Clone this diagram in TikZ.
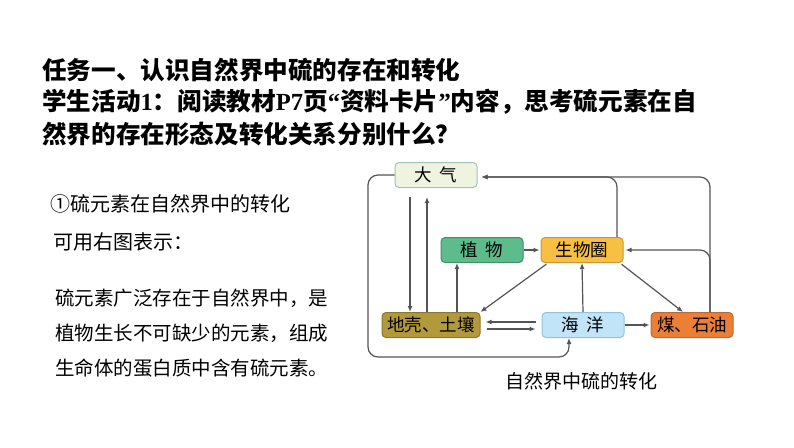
\documentclass[tikz,border=0pt]{standalone}
\usepackage{fontspec}
\usepackage{xcolor}
\usetikzlibrary{arrows.meta}
\setmainfont{Noto Sans CJK SC}
\newfontfamily\cjk{Noto Sans CJK SC}
\newfontfamily\latin{Liberation Serif}

\definecolor{dqfill}{HTML}{EEF4DF}
\definecolor{dqline}{HTML}{A3C2B8}
\definecolor{zwfill}{HTML}{5DBB8C}
\definecolor{zwline}{HTML}{3F8F6A}
\definecolor{swfill}{HTML}{F8C043}
\definecolor{swline}{HTML}{C9963A}
\definecolor{dkfill}{HTML}{B29A3C}
\definecolor{dkline}{HTML}{8A7830}
\definecolor{hyfill}{HTML}{C2E4F8}
\definecolor{hyline}{HTML}{8FC3E0}
\definecolor{msfill}{HTML}{EC7F36}
\definecolor{msline}{HTML}{B86A3A}
\definecolor{linegray}{HTML}{555555}

\newcommand{\lat}[1]{{\latin\bfseries #1}}

\tikzset{
  box/.style={rounded corners=4pt, line width=1pt, minimum height=25pt,
    minimum width=82pt, inner sep=0pt, font=\cjk\fontsize{17.5}{20}\selectfont},
  link/.style={draw=linegray, line width=1.2pt},
  arr/.style={link, -{Latex[length=6pt,width=5pt]}},
  txt/.style={anchor=west, inner sep=0pt, font=\cjk\fontsize{19.5}{22}\selectfont},
  head/.style={anchor=west, inner sep=0pt, font=\cjk\bfseries\fontsize{24.6}{28}\selectfont}
}

\begin{document}
\begin{tikzpicture}[x=1pt,y=-1pt]
  \useasboundingbox[fill=white] (0,0) rectangle (794,447);

  % heading
  \node[head] (t1) at (42,70) {任务一、认识自然界中硫的存在和转化};
  \node[head] (t2) at (42,102) {学生活动\lat{1}：阅读教材\lat{P7}页\lat{“}资料卡片\lat{”}内容，思考硫元素在自};
  \node[head] (t3) at (42,134) {然界的存在形态及转化关系分别什么？};

  % left text
  \node[txt, font=\cjk\fontsize{20}{22}\selectfont] (l1) at (50,204) {①硫元素在自然界中的转化};
  \node[txt, font=\cjk\fontsize{20}{22}\selectfont] (l2) at (53,242) {可用右图表示：};
  \node[txt] (p1) at (55,298) {硫元素广泛存在于自然界中，是};
  \node[txt] (p2) at (55,333) {植物生长不可缺少的元素，组成};
  \node[txt] (p3) at (55,368) {生命体的蛋白质中含有硫元素。};

  % boxes
  \node[box, fill=dqfill, draw=dqline] (daqi) at (436,175) {大\ \ 气};
  \node[box, fill=zwfill, draw=zwline] (zhiwu) at (482,250) {植\ \ 物};
  \node[box, fill=swfill, draw=swline] (shengwu) at (582,250) {生物圈};
  \node[box, fill=dkfill, draw=dkline, minimum width=98pt] (dike) at (431,325) {地壳、土壤};
  \node[box, fill=hyfill, draw=hyline] (haiyang) at (583,325) {海\ \ 洋};
  \node[box, fill=msfill, draw=msline] (meishi) at (692,325) {煤、石油};

  \node[inner sep=0pt, font=\cjk\fontsize{19}{22}\selectfont] (cap) at (581,381) {自然界中硫的转化};

  % connectors
  \draw[arr, rounded corners=10pt] (daqi.west) -| (368,357) -| ([xshift=-14pt]haiyang.south);
  \draw[arr, shorten <=9pt] ([xshift=-26pt]daqi.south) -- ([xshift=-21pt]dike.north);
  \draw[arr, shorten >=9pt] ([xshift=-4pt]dike.north) -- ([xshift=-9pt]daqi.south);
  \draw[arr] ([xshift=26pt]dike.north) -- ([xshift=-25pt]zhiwu.south);
  \draw[arr, shorten >=1pt] (zhiwu.east) -- (shengwu.west);
  \draw[arr, rounded corners=10pt, shorten >=4pt] ([xshift=35pt]shengwu.north) |- ([yshift=-2pt]daqi.east);
  \draw[arr, rounded corners=10pt, shorten >=4pt] ([xshift=18pt]meishi.north) |- ([yshift=-2pt]daqi.east);
  \draw[arr, rounded corners=10pt, shorten >=2pt] ([xshift=18pt]meishi.north) |- (shengwu.east);
  \draw[arr, shorten <=2pt] ([xshift=-34pt]shengwu.south) -- (dike.north east);
  \draw[arr] (haiyang.north) -- (shengwu.south);
  \draw[arr, shorten <=2pt] ([xshift=38pt]shengwu.south) -- ([xshift=-9pt]meishi.north);
  \draw[arr, shorten <=6pt, shorten >=5pt] ([yshift=3pt]haiyang.west) -- ([yshift=3pt]dike.east);
  \draw[arr, shorten <=6pt, shorten >=6pt] ([yshift=-4pt]dike.east) -- ([yshift=-4pt]haiyang.west);
  \draw[arr, shorten >=1pt] (haiyang.east) -- (meishi.west);
\end{tikzpicture}
\end{document}
